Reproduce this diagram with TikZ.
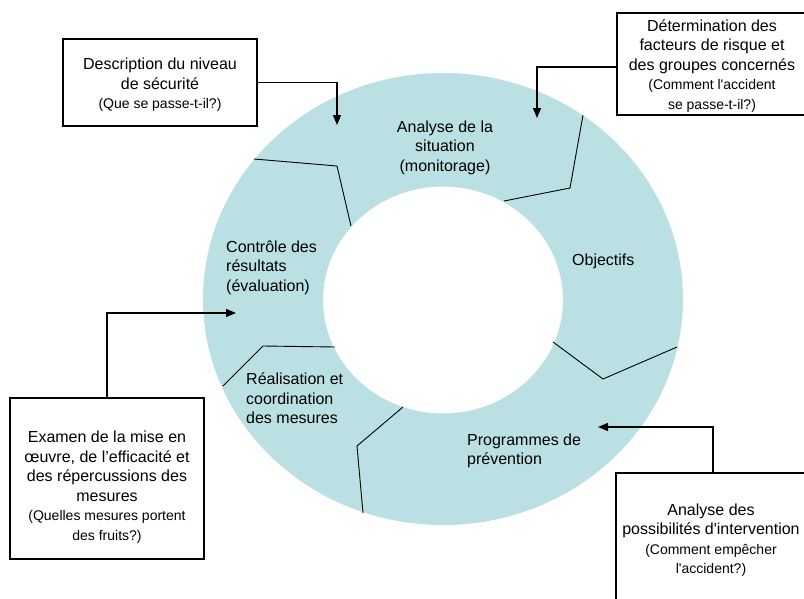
\documentclass[tikz,border=0pt]{standalone}
\usepackage{fontspec}
\setmainfont{Liberation Sans}
\usetikzlibrary{arrows.meta}
\definecolor{ringcol}{RGB}{187,224,227}
\newcommand\smalltxt{\fontsize{14}{17}\selectfont}
\begin{document}
\begin{tikzpicture}[x=1pt,y=-1pt,
  bigfont/.style={font=\fontsize{16}{19.5}\selectfont},
  ringtxt/.style={bigfont, inner sep=0pt, align=left, anchor=west},
  boxtxt/.style={bigfont, inner sep=0pt, align=center},
  infobox/.style={draw, line width=1.4pt, inner sep=0pt},
  divider/.style={line width=0.9pt},
  arr/.style={line width=1.3pt, -{Triangle[length=10pt,width=8pt]}}]
\clip (0,0) rectangle (804,598);
% ring
\fill[ringcol, even odd rule] (443,299) ellipse [x radius=240pt, y radius=226pt]
  (443,300) ellipse [x radius=120pt, y radius=113.5pt];
% dividers
\draw[divider] (254,159) -- (337,166) -- (351,226);
\draw[divider] (583,115) -- (570,188) -- (504,201);
\draw[divider] (553,342) -- (603,379) -- (677,347);
\draw[divider] (403,407) -- (357,446) -- (363,513);
\draw[divider] (223,386) -- (263,346) -- (335,347);
% ring texts
\node[bigfont, inner sep=0pt, align=center] (analyse) at (445,147.5) {Analyse de la\\situation\\(monitorage)};
\node[ringtxt] (objectifs) at (572,261) {Objectifs};
\node[ringtxt] (controle) at (226,267.5) {Contrôle des\\résultats\\(évaluation)};
\node[ringtxt] (realisation) at (246,398.5) {Réalisation et\\coordination\\des mesures};
\node[ringtxt] (programmes) at (467,451) {Programmes de\\prévention};
% boxes
\node[infobox, minimum width=194pt, minimum height=87pt] (desc) at (160,82.5) {};
\node[boxtxt] (desctxt) at (160,85) {Description du niveau\\de sécurité\\\smalltxt (Que se passe-t-il?)};
\node[infobox, minimum width=191pt, minimum height=102pt] (det) at (712.5,64) {};
\node[boxtxt] (dettxt) at (712,66) {Détermination des\\facteurs de risque et\\des groupes concernés\\\smalltxt (Comment l\textquotesingle accident\\\smalltxt se passe-t-il?)};
\node[infobox, minimum width=194pt, minimum height=161pt] (exam) at (107,478.5) {};
\node[boxtxt] (examtxt) at (107,487) {Examen de la mise en\\œuvre, de l’efficacité et\\des répercussions des\\mesures\\\smalltxt (Quelles mesures portent\\\smalltxt des fruits?)};
\node[infobox, minimum width=192pt, minimum height=137pt] (interv) at (712,541.5) {};
\node[boxtxt] (intervtxt) at (711,540) {Analyse des\\possibilités d\textquotesingle intervention\\\smalltxt (Comment empêcher\\\smalltxt l\textquotesingle accident?)};
% arrows
\coordinate (tipA) at (337,125);
\coordinate (tipB) at (537,118);
\coordinate (tipC) at (236,313);
\coordinate (tipD) at (598,427);
\draw[arr] (desc.east) -| (tipA);
\draw[arr] ([yshift=-3pt]det.west) -| (tipB);
\draw[arr] (exam.north) |- (tipC);
\draw[arr] ([xshift=1pt]interv.north) |- (tipD);
\end{tikzpicture}
\end{document}
